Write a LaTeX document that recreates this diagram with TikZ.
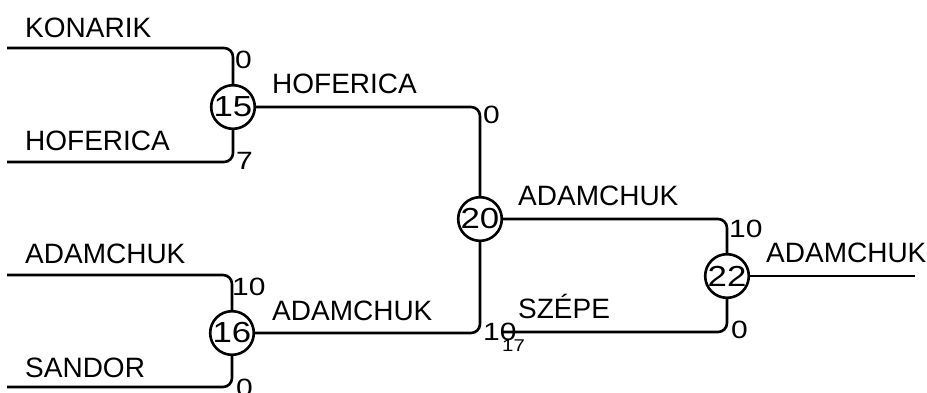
\documentclass[tikz,border=0pt]{standalone}
\usepackage{fontspec}
\usepackage{graphicx}
\setmainfont{Liberation Sans}
\usetikzlibrary{positioning}

\newcommand{\widenum}[1]{\scalebox{1.2}[1]{#1}}

\tikzset{
  game/.style={circle,draw,line width=2.6pt,minimum size=42pt,inner sep=0pt,font=\fontsize{29}{29}\selectfont},
  player/.style={anchor=base west,inner sep=0pt,font=\fontsize{28}{30}\selectfont},
  score/.style={anchor=base west,inner sep=0pt,font=\fontsize{25}{25}\selectfont},
  bline/.style={line width=2.6pt,rounded corners=9pt}
}

\begin{document}
\begin{tikzpicture}[x=1pt,y=-1pt]
	\useasboundingbox (0,0) rectangle (927,392);
	% games
	\node[game] (g15) at (233,107) {\widenum{15}};
	\node[game] (g16) at (232,333) {\widenum{16}};
	\node[game] (g20) at (480,219) {\widenum{20}};
	\node[game] (g22) at (727,276) {\widenum{22}};
	% free line ends
	\coordinate (s1) at (7,48);
	\coordinate (s2) at (7,162);
	\coordinate (s3) at (7,275);
	\coordinate (s4) at (7,387);
	\coordinate (s5) at (503,332);
	\coordinate (win) at (915,276);
	% bracket lines
	\draw[bline] (s1) -| (g15);
	\draw[bline] (s2) -| (g15);
	\draw[bline] (s3) -| (g16);
	\draw[bline] (s4) -| (g16);
	\draw[bline] (g15) -| (g20);
	\draw[bline] (g16) -| (g20);
	\draw[bline] (g20) -| (g22);
	\draw[bline] (s5) -| (g22);
	\draw[bline] (g22) -- (win);
	% players
	\node[player] (konarik) at (25,37) {KONARIK};
	\node[player] (hoferica) at (25,150) {HOFERICA};
	\node[player] (adamchuk) at (25,263) {ADAMCHUK};
	\node[player] (sandor) at (25,377) {SANDOR};
	\node[player] (hoferica2) at (272,93) {HOFERICA};
	\node[player] (adamchuk2) at (272,320) {ADAMCHUK};
	\node[player] (adamchuk3) at (518,205) {ADAMCHUK};
	\node[player] (szepe) at (518,318) {SZÉPE};
	\node[player] (adamchuk4) at (766,262) {ADAMCHUK};
	% scores
	\node[score] (p1) at (235,68) {\widenum{0}};
	\node[score] (p2) at (236,169) {\widenum{7}};
	\node[score] (p3) at (232,295) {\widenum{10}};
	\node[score] (p4) at (236,396) {\widenum{0}};
	\node[score] (p5) at (483,123) {\widenum{0}};
	\node[score] (p6) at (483,340) {\widenum{10}};
	\node[score] (p7) at (729,237) {\widenum{10}};
	\node[score] (p8) at (731,338) {\widenum{0}};
	\node[score,font=\fontsize{17}{17}\selectfont] (p9) at (502,351) {\widenum{17}};
\end{tikzpicture}
\end{document}
